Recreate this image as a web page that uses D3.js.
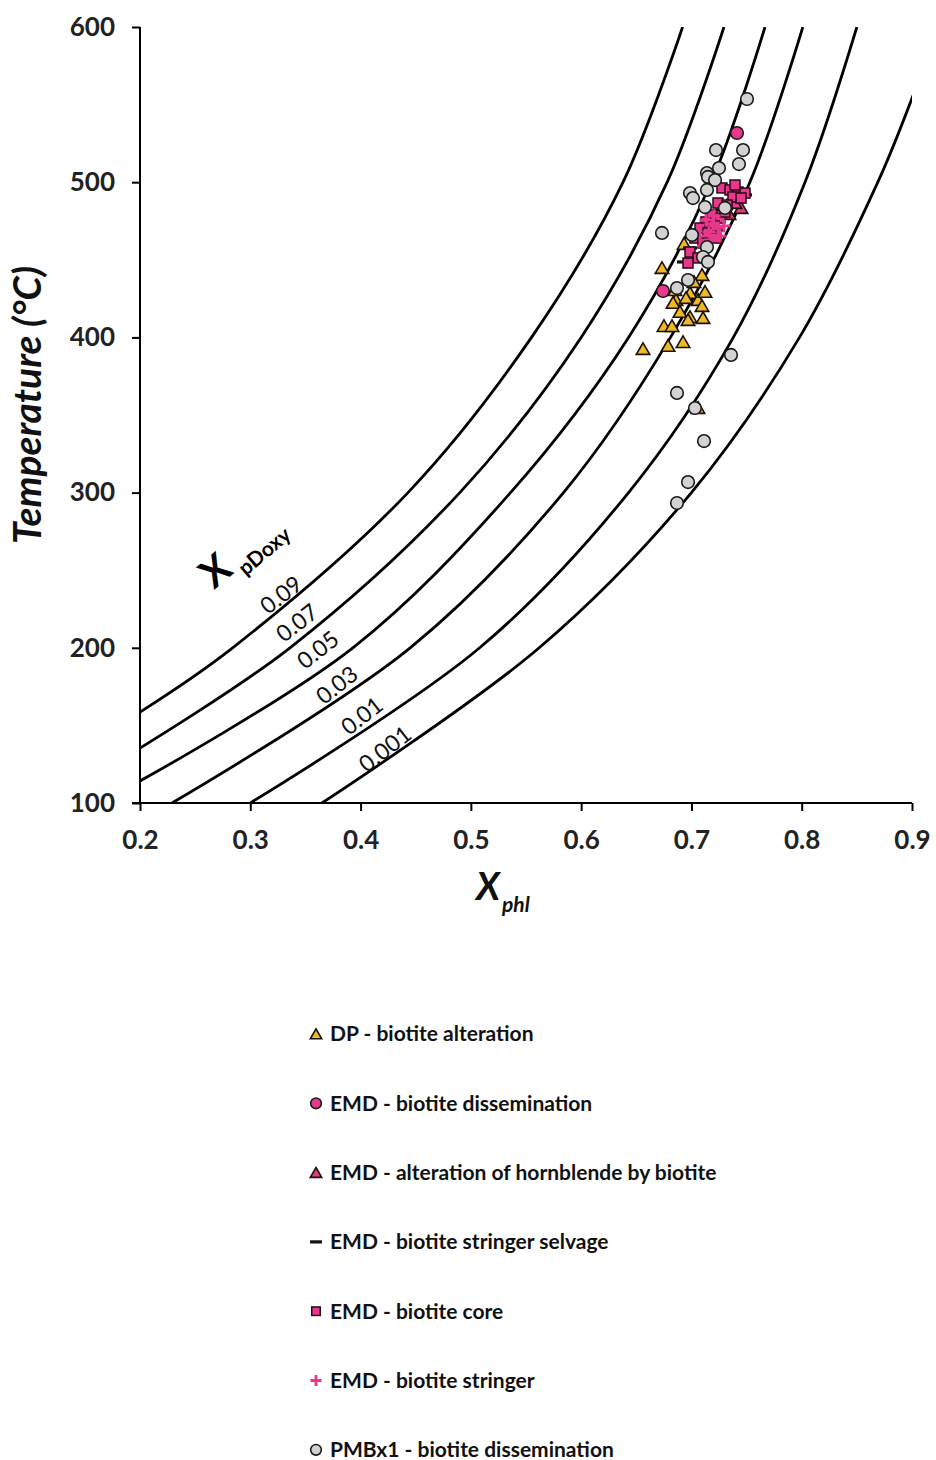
<!DOCTYPE html>
<html>
<head>
<meta charset="utf-8">
<script src="https://cdn.jsdelivr.net/npm/d3@7.9.0/dist/d3.min.js"></script>
<style>
  body { margin: 0; background: #fff; }
  svg { display: block; font-family: Lato, "Open Sans", sans-serif; }
</style>
</head>
<body>
<svg id="chart" width="936" height="1460"></svg>
<script>
// axis ticks
const xTicks = [0.2, 0.3, 0.4, 0.5, 0.6, 0.7, 0.8, 0.9];
const yTicks = [100, 200, 300, 400, 500, 600];

// isopleths of X_pDoxy (X_phl, T)
const isoLabels = ['0.09', '0.07', '0.05', '0.03', '0.01', '0.001'];
const iso009 = [[0.2, 158.6], [0.284, 200], [0.443, 300], [0.555, 400], [0.638, 500], [0.692, 600]];
const iso007 = [[0.2, 135.4], [0.336, 200], [0.490, 300], [0.600, 400], [0.678, 500], [0.7295, 600]];
const iso005 = [[0.2, 114.2], [0.393, 200], [0.536, 300], [0.643, 400], [0.718, 500], [0.7667, 600]];
const iso003 = [[0.229, 100], [0.445, 200], [0.584, 300], [0.681, 400], [0.753, 500], [0.801, 600]];
const iso001 = [[0.300, 100], [0.508, 200], [0.643, 300], [0.738, 400], [0.803, 500], [0.850, 600]];
const iso0001 = [[0.365, 100], [0.562, 200], [0.700, 300], [0.798, 400], [0.869, 500], [0.901, 556]];

// samples (X_phl, T °C)
const dpAlteration = [
  [0.6733, 444.7], [0.6933, 460.2], [0.7096, 440.2], [0.6851, 430.5], [0.6987, 428.6],
  [0.6860, 424.1], [0.6951, 425.4], [0.7060, 424.1], [0.7123, 429.3], [0.6833, 422.2],
  [0.6896, 416.4], [0.6987, 413.1], [0.7096, 420.2], [0.6751, 407.3], [0.6824, 407.3],
  [0.6969, 411.2], [0.7105, 412.5], [0.6561, 392.5], [0.6788, 394.5], [0.6924, 397.0],
  [0.7060, 354.5], [0.7023, 435.7]
];
const emdDissemination = [[0.7413, 531.7], [0.6742, 429.9]];
const emdHornblende = [[0.7450, 483.4], [0.7395, 486.6], [0.7341, 479.5]];
const emdSelvage = [
  [0.7332, 496.9], [0.7440, 495.0], [0.7486, 491.8], [0.7377, 488.5], [0.7277, 482.1],
  [0.7187, 475.6], [0.7078, 469.2], [0.6987, 457.6], [0.6933, 448.6], [0.7032, 453.1],
  [0.7123, 462.8], [0.7241, 469.2]
];
const emdCore = [
  [0.7277, 496.3], [0.7350, 495.0], [0.7422, 493.7], [0.7486, 493.0], [0.7377, 490.5],
  [0.7450, 489.8], [0.7241, 486.6], [0.7323, 485.3], [0.7187, 478.9], [0.7259, 476.9],
  [0.7132, 474.4], [0.7205, 471.8], [0.7078, 470.5], [0.7150, 467.3], [0.7032, 464.0],
  [0.7105, 460.8], [0.6987, 455.0], [0.7060, 451.2], [0.6969, 447.9], [0.7223, 464.0],
  [0.7304, 480.8], [0.7395, 498.2]
];
const emdStringer = [
  [0.7132, 475.6], [0.7196, 473.1], [0.7241, 470.5], [0.7159, 467.9], [0.7259, 465.3],
  [0.7078, 465.3], [0.7205, 478.2], [0.7114, 458.9], [0.7295, 471.8], [0.7177, 462.8]
];
const pmbDissemination = [
  [0.7504, 553.6], [0.7223, 520.7], [0.7468, 520.7], [0.7431, 511.7], [0.7250, 509.1],
  [0.7141, 505.9], [0.7150, 503.4], [0.7214, 501.4], [0.6987, 493.0], [0.7014, 489.8],
  [0.7141, 495.0], [0.7123, 484.0], [0.7304, 483.4], [0.6733, 467.3], [0.7005, 466.0],
  [0.7141, 458.2], [0.7105, 451.8], [0.7150, 448.6], [0.6969, 437.0], [0.6869, 431.8],
  [0.7359, 388.7], [0.6869, 364.2], [0.7032, 354.5], [0.7114, 333.2], [0.6969, 306.8],
  [0.6869, 293.3]
];

const legendNames = [
  'DP - biotite alteration',
  'EMD - biotite dissemination',
  'EMD - alteration of hornblende by biotite',
  'EMD - biotite stringer selvage',
  'EMD - biotite core',
  'EMD - biotite stringer',
  'PMBx1 - biotite dissemination'
];

// where the isopleth labels sit (data coords)
const labelAt = [[0.3279, 234.0], [0.3424, 216.0], [0.3614, 198.6], [0.3786, 176.0], [0.4013, 156.1], [0.4222, 134.8]];

const gold = '#EDB926', pink = '#E8388B', grey = '#D2D2D2';

const svg = d3.select('#chart');
const x = d3.scaleLinear().domain([0.2, 0.9]).range([140, 912]);
const y = d3.scaleLinear().domain([100, 600]).range([803, 27]);

svg.append('clipPath').attr('id', 'plot')
  .append('rect').attr('x', 140).attr('y', 27).attr('width', 772).attr('height', 776);

// isopleth curves
const line = d3.line().x(d => x(d[0])).y(d => y(d[1])).curve(d3.curveCatmullRom.alpha(0.5));
const isos = [iso009, iso007, iso005, iso003, iso001, iso0001];
svg.append('g').attr('clip-path', 'url(#plot)')
  .selectAll('path').data(isos).join('path')
  .attr('d', line)
  .attr('fill', 'none')
  .attr('stroke', '#000')
  .attr('stroke-width', 2.8);

// isopleth labels
svg.append('g').selectAll('text').data(isoLabels).join('text')
  .attr('transform', (d, i) => `translate(${x(labelAt[i][0])},${y(labelAt[i][1])}) rotate(-38)`)
  .attr('text-anchor', 'middle')
  .attr('dy', '0.35em')
  .attr('font-size', 23)
  .attr('fill', '#111')
  .text(d => d);

const xp = svg.append('g').attr('transform', 'translate(214,590) rotate(-40)');
xp.append('text').attr('font-size', 40).attr('font-weight', 700).text('X');
xp.append('text').attr('x', 33).attr('y', 10).attr('font-size', 21).attr('font-weight', 700).text('pDoxy');

// axes
const xAxis = svg.append('g').attr('transform', 'translate(0,803)')
  .call(d3.axisBottom(x).tickValues(xTicks).tickFormat(d3.format('.1f')).tickSize(8).tickSizeOuter(0).tickPadding(20));
const yAxis = svg.append('g').attr('transform', 'translate(140,0)')
  .call(d3.axisLeft(y).tickValues(yTicks).tickSize(8).tickSizeOuter(0).tickPadding(17));
[xAxis, yAxis].forEach(a => {
  a.select('.domain').attr('stroke', '#000').attr('stroke-width', 2);
  a.selectAll('.tick line').attr('stroke', '#000').attr('stroke-width', 2);
  a.selectAll('.tick text').attr('font-family', 'Lato').attr('font-size', 26)
    .attr('font-weight', 700).attr('fill', '#222');
});
yAxis.select('.domain').attr('d', 'M0,803V27');
xAxis.select('.domain').attr('d', 'M132,0H912');

// axis titles
svg.append('text')
  .attr('transform', 'translate(41,405) rotate(-90)')
  .attr('text-anchor', 'middle')
  .attr('font-size', 39).attr('font-weight', 700).attr('font-style', 'italic')
  .attr('fill', '#111')
  .text('Temperature (°C)');
const xt = svg.append('text').attr('x', 476).attr('y', 900)
  .attr('font-weight', 700).attr('font-style', 'italic').attr('fill', '#111');
xt.append('tspan').attr('font-size', 38).text('X');
xt.append('tspan').attr('font-size', 21).attr('dy', 12).attr('dx', 2).text('phl');

// markers
const sym = (type, size) => d3.symbol().type(type).size(size)();
function drawSeries(data, kind, scale = 1) {
  const g = svg.append('g').attr('clip-path', 'url(#plot)');
  const pts = g.selectAll('g').data(data).join('g')
    .attr('transform', d => `translate(${x(d[0])},${y(d[1])})`);
  addMarker(pts, kind, scale);
}
function addMarker(sel, kind, scale) {
  if (kind === 'goldTri' || kind === 'pinkTri') {
    sel.append('path').attr('d', sym(d3.symbolTriangle, 78 * scale * scale))
      .attr('transform', 'translate(0,1.5)')
      .attr('fill', kind === 'goldTri' ? gold : pink)
      .attr('stroke', '#1b1205').attr('stroke-width', 1.6);
  } else if (kind === 'pinkCircle' || kind === 'greyCircle') {
    sel.append('circle').attr('r', 6.3 * scale)
      .attr('fill', kind === 'pinkCircle' ? pink : grey)
      .attr('stroke', '#1a1a1a').attr('stroke-width', 1.6);
  } else if (kind === 'dash') {
    sel.append('rect').attr('x', -7 * scale).attr('y', -1.6).attr('width', 14 * scale).attr('height', 3.2)
      .attr('fill', '#111');
  } else if (kind === 'square') {
    sel.append('rect').attr('x', -5 * scale).attr('y', -5 * scale)
      .attr('width', 10 * scale).attr('height', 10 * scale)
      .attr('fill', pink).attr('stroke', '#2a0a18').attr('stroke-width', 1.5);
  } else if (kind === 'plus') {
    const s = 6.5 * scale;
    sel.append('path').attr('d', `M${-s},0H${s}M0,${-s}V${s}`)
      .attr('stroke', pink).attr('stroke-width', 2.8).attr('fill', 'none');
  }
}

const kinds = ['goldTri', 'pinkCircle', 'pinkTri', 'dash', 'square', 'plus', 'greyCircle'];
const series = [dpAlteration, emdDissemination, emdHornblende, emdSelvage, emdCore, emdStringer, pmbDissemination];
series.forEach((s, i) => drawSeries(s, kinds[i]));

// legend
const leg = svg.append('g').selectAll('g').data(legendNames).join('g')
  .attr('transform', (d, i) => `translate(316,${1034 + i * 69.3})`);
leg.each(function (d, i) { addMarker(d3.select(this), kinds[i], 0.85); });
leg.append('text').attr('x', 14).attr('dy', '0.35em')
  .attr('font-size', 21).attr('font-weight', 700).attr('fill', '#111')
  .text(d => d);
</script>
</body>
</html>
